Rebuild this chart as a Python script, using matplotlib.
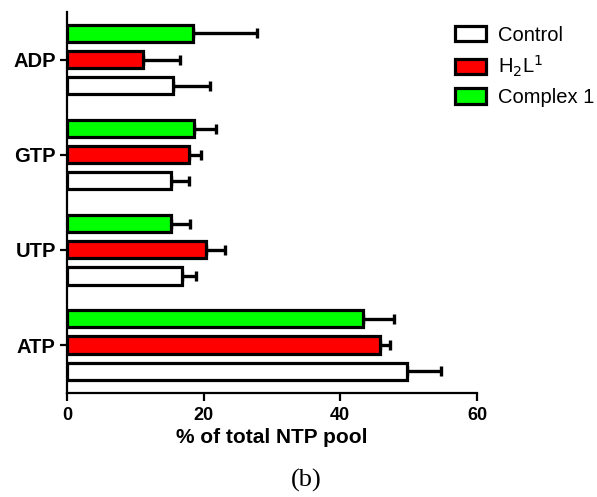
import matplotlib
matplotlib.use('Agg')
import matplotlib.pyplot as plt
import numpy as np

# nucleotide groups (bottom to top) and series
categories = ['ATP', 'UTP', 'GTP', 'ADP']
series_names = ['Control', 'H$_2$L$^1$', 'Complex 1']
series_colors = ['white', '#ff0000', '#00ff00']

control = [49.7, 16.9, 15.2, 15.5]
control_err = [5.0, 2.0, 2.7, 5.4]
h2l1 = [45.8, 20.4, 17.8, 11.1]
h2l1_err = [1.4, 2.7, 1.8, 5.4]
complex1 = [43.3, 15.3, 18.6, 18.4]
complex1_err = [4.6, 2.7, 3.2, 9.4]

values = [control, h2l1, complex1]
errors = [control_err, h2l1_err, complex1_err]

plt.rcParams['font.family'] = ['Liberation Sans', 'DejaVu Sans']

fig = plt.figure(figsize=(5.97, 4.97), dpi=100)
ax = fig.add_axes([0.112, 0.209, 0.687, 0.767])

y = np.arange(len(categories))
offsets = [-0.275, 0.0, 0.275]
bar_h = 0.18

handles = []
for i in range(3):
    err = np.array(errors[i])
    ax.errorbar(values[i], y + offsets[i], xerr=[np.zeros_like(err), err],
                fmt='none', ecolor='black', elinewidth=2.4, capsize=3.5,
                capthick=2.4, zorder=1)
    b = ax.barh(y + offsets[i], values[i], height=bar_h, color=series_colors[i],
                edgecolor='black', linewidth=2.3, label=series_names[i], zorder=2)
    handles.append(b)

ax.set_xlim(0, 60)
ax.set_ylim(-0.505, 3.5)
ax.set_xticks([0, 20, 40, 60])
ax.set_yticks(y)
ax.set_yticklabels(categories)
for lbl in ax.get_xticklabels() + ax.get_yticklabels():
    lbl.set_fontweight('bold')
ax.tick_params(axis='x', labelsize=13, width=1.6, length=6, pad=4)
ax.tick_params(axis='y', labelsize=14.5, width=1.6, length=5, pad=3)
ax.set_xlabel('% of total NTP pool', fontsize=15, fontweight='bold', labelpad=3)

for s in ['top', 'right']:
    ax.spines[s].set_visible(False)
for s in ['left', 'bottom']:
    ax.spines[s].set_linewidth(1.6)

fig.legend(handles=handles, loc='upper left', bbox_to_anchor=(0.742, 0.973),
           frameon=False, fontsize=14.5, handlelength=1.55, handleheight=0.8,
           labelspacing=0.45, handletextpad=0.6, borderaxespad=0.2)

fig.text(0.513, 0.034, '(b)', fontsize=19, family=['Liberation Serif', 'DejaVu Serif'],
         ha='center', va='center')

plt.savefig('out.png', dpi=100)
plt.close()
